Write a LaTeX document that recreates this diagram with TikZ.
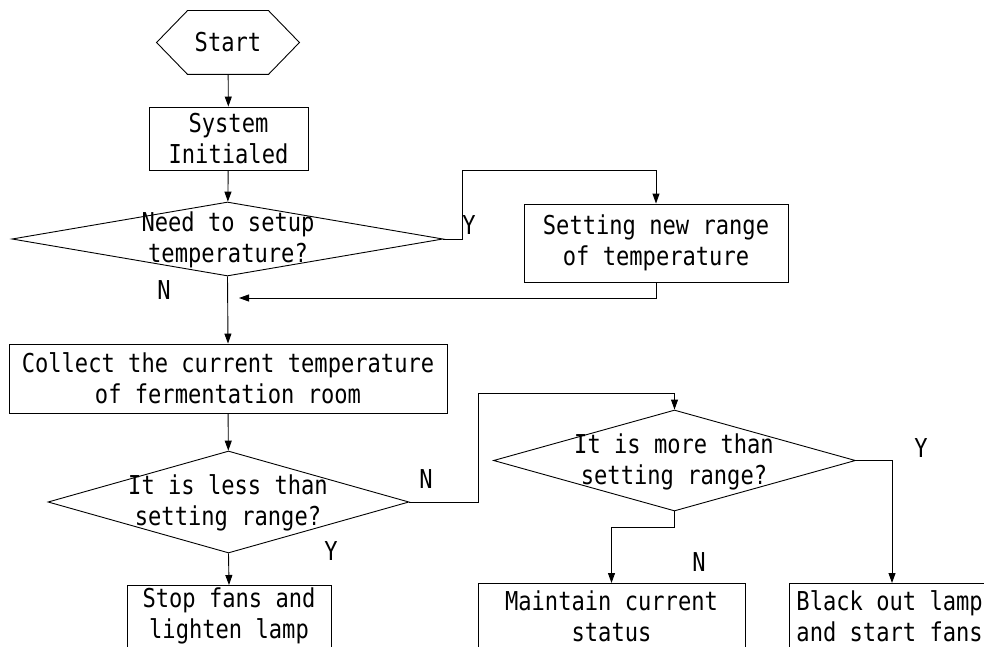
\documentclass[tikz,border=0pt]{standalone}
\usepackage{fontspec}
\usetikzlibrary{shapes.geometric,arrows.meta}
\newfontfamily\diagfont[FakeStretch=0.85]{DejaVu Sans Mono}
\begin{document}
\begin{tikzpicture}[x=1pt,y=-1pt,line width=0.9pt,
  >={Triangle[length=10pt,width=7pt]},
  dfont/.style={font={\diagfont\fontsize{26pt}{31pt}\selectfont}},
  box/.style={draw,rectangle,inner sep=0pt,align=center,dfont},
  dec/.style={draw,diamond,inner sep=0pt},
  txt/.style={align=center,inner sep=0pt,dfont},
  lbl/.style={inner sep=0pt,dfont}]
\useasboundingbox (0,0) rectangle (984,647);
\clip (0,0) rectangle (984,647);
% start
\node[txt,minimum width=142pt,minimum height=63pt] (start) at (228,42.5) {Start};
\draw (start.west) -- ([xshift=31pt]start.north west) -- ([xshift=-31pt]start.north east)
  -- (start.east) -- ([xshift=-31pt]start.south east) -- ([xshift=31pt]start.south west) -- cycle;
\node[box,minimum width=159pt,minimum height=63pt] (sys) at (228.5,138.5) {System\\Initialed};
\node[dec,minimum width=431pt,minimum height=74pt] (d1) at (227.5,239) {};
\node[txt] (d1t) at (228,240) {Need to setup\\temperature?};
\node[box,minimum width=264pt,minimum height=78pt] (set) at (656,243) {Setting new range\\of temperature};
\node[box,minimum width=438pt,minimum height=69pt] (collect) at (228,378.5) {Collect the current temperature\\of fermentation room};
\node[dec,minimum width=361pt,minimum height=102pt] (d2) at (228.5,502) {};
\node[txt] (d2t) at (228,503) {It is less than\\setting range?};
\node[dec,minimum width=362pt,minimum height=101pt] (d3) at (674.5,460.5) {};
\node[txt] (d3t) at (674,462) {It is more than\\setting range?};
\node[draw,rectangle,minimum width=204pt,minimum height=100pt,anchor=north] (stop) at (229,585) {};
\node[txt] (stopt) at (229,616) {Stop fans and\\lighten lamp};
\node[draw,rectangle,minimum width=267pt,minimum height=100pt,anchor=north] (maint) at (611.5,583) {};
\node[txt] (maintt) at (611.5,616) {Maintain current\\status};
\node[draw,rectangle,minimum width=206pt,minimum height=100pt,anchor=north] (black) at (892,583) {};
\node[txt,anchor=west] (blackt) at (796,616) {Black out lamp\\and start fans};
\coordinate (join) at (239,298);
% connectors
\draw[->] (start) -- (sys);
\draw[->] (sys) -- (d1);
\draw[->] (d1.east) -- (462,239) -- (462,170) -- (656,170) -- (set.north);
\draw[->] (set.south) -- (656,298) -- (join);
\draw[->] (d1.south) -- (collect.north);
\draw[->] (collect) -- (d2);
\draw[->] (d2.south) -- (stop.north);
\draw[->] (d2.east) -- (478,502) -- (478,393) -- (674.5,393) -- (d3.north);
\draw[->] (d3.east) -| (black.north);
\draw[->] (d3.south) -- (674.5,527) -| (maint.north);
% labels
\node[lbl] (y1) at (469,225) {Y};
\node[lbl] (n1) at (164,290) {N};
\node[lbl] (n2) at (426,479) {N};
\node[lbl] (y2) at (331,551) {Y};
\node[lbl] (y3) at (921,448) {Y};
\node[lbl] (n3) at (699,562) {N};
\end{tikzpicture}
\end{document}
